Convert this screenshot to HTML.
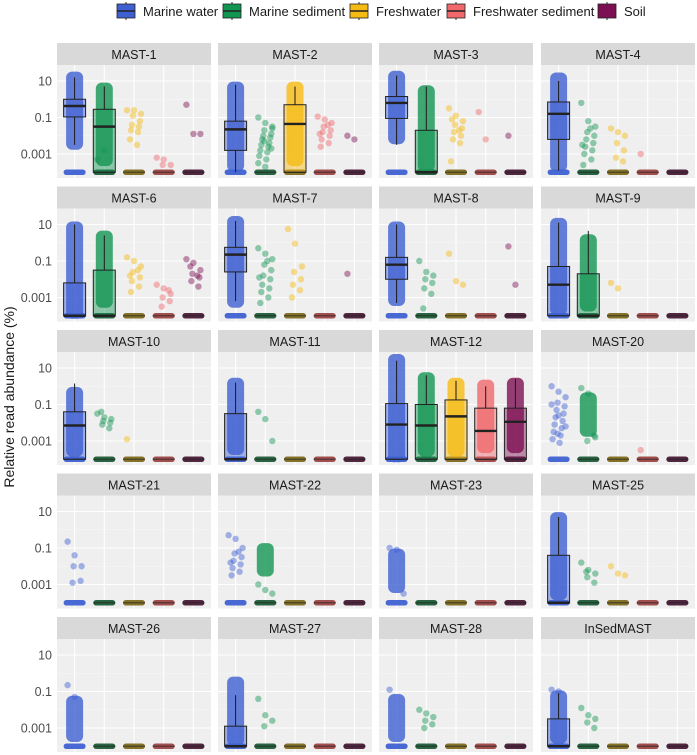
<!DOCTYPE html>
<html><head><meta charset="utf-8">
<style>
html,body{margin:0;padding:0;background:#fff;}
svg{display:block;font-family:"Liberation Sans",sans-serif;}
</style></head>
<body>
<svg id="chart" width="697" height="755" viewBox="0 0 697 755" xmlns="http://www.w3.org/2000/svg"></svg>
<script>
// ---- data (log10 of relative read abundance %; -4 = zero pseudocount) ----
const categories = ["Marine water","Marine sediment","Freshwater","Freshwater sediment","Soil"];
const colors = ["#3E60D2","#139552","#F6BB12","#F0686C","#7D1052"];
const zeroColors = ["#3C5BB8","#1E5C38","#7E6A1E","#9C4444","#4A1A36"];
const facets = ["MAST-1","MAST-2","MAST-3","MAST-4","MAST-6","MAST-7","MAST-8","MAST-9","MAST-10","MAST-11","MAST-12","MAST-20","MAST-21","MAST-22","MAST-23","MAST-25","MAST-26","MAST-27","MAST-28","InSedMAST"];
const yTickValues = [1,-1,-3];
const yTickLabels = ["10","0.1","0.001"];
// boxes: [whiskerLow, q1, median, q3, whiskerHigh] per facet per category (null = no box)
const boxes = [
 [[-2.5,-0.97,-0.37,0.0,1.2],[-4,-4,-1.5,-0.55,0.7],null,null,null],
 [[-4,-2.8,-1.65,-1.2,0.8],null,[-4,-4,-1.35,-0.3,0.7],null,null],
 [[-2.5,-1.05,-0.2,0.15,1.3],[-4,-4,-4,-1.7,0.7],null,null,null],
 [[-3.9,-2.2,-0.8,-0.15,1.0],null,null,null,null],
 [[-4,-4,-4,-2.2,1.0],[-4,-4,-4,-1.5,0.4],null,null,null],
 [[-3.2,-1.6,-0.65,-0.25,1.2],null,null,null,null],
 [[-3.3,-2.0,-1.2,-0.8,1.0],null,null,null,null],
 [[-4,-4,-2.3,-1.3,1.1],[-4,-4,-4,-1.7,0.65],null,null,null],
 [[-4,-4,-2.15,-1.4,0.15],null,null,null,null],
 [[-4,-4,-4,-1.5,0.2],null,null,null,null],
 [[-4,-4,-2.1,-0.95,1.4],[-4,-4,-2.15,-1.0,0.6],[-4,-4,-1.65,-0.75,0.3],[-4,-4,-2.45,-1.2,0.0],[-4,-4,-1.95,-1.2,0.4]],
 [null,null,null,null,null],
 [null,null,null,null,null],
 [null,null,null,null,null],
 [null,null,null,null,null],
 [[-4,-4,-4,-1.4,0.7],null,null,null,null],
 [null,null,null,null,null],
 [[-4,-4,-4,-2.9,-1.2],null,null,null,null],
 [null,null,null,null,null],
 [[-4,-4,-4,-2.5,-1.1],null,null,null,null]
];
// dense point clouds: [low, high] per facet per category (null = none)
const clouds = [
 [[-2.6,1.35],[-3.5,0.75],null,null,null],
 [[-3.8,0.8],null,[-3.5,0.8],null,null],
 [[-2.3,1.4],[-3.8,0.6],null,null,null],
 [[-3.8,1.3],null,null,null,null],
 [[-4,1.0],[-3.4,0.5],null,null,null],
 [[-3.4,1.3],null,null,null,null],
 [[-3.3,1.0],null,null,null,null],
 [[-3.8,1.2],[-3.6,0.3],null,null,null],
 [[-3.7,-0.2],null,null,null,null],
 [[-3.6,0.3],null,null,null,null],
 [[-4,1.6],[-3.7,0.6],[-3.7,0.3],[-3.5,0.2],[-3.5,0.3]],
 [null,[-2.6,-0.5],null,null,null],
 [null,null,null,null,null],
 [null,[-2.4,-0.9],null,null,null],
 [[-3.3,-1.2],null,null,null,null],
 [[-3.7,0.8],null,null,null,null],
 [[-3.6,-1.4],null,null,null,null],
 [[-3.8,-0.35],null,null,null,null],
 [[-3.6,-1.3],null,null,null,null],
 [[-3.7,-1.1],null,null,null,null]
];
// sparse points per facet per category
const points = [
 [[],[-3.3,-2.8],[-0.6,-0.6,-0.8,-0.9,-1.2,-1.4,-1.5,-1.7,-1.8,-2.2,-2.5],[-3.2,-3.3,-3.6,-3.6],[-0.3,-1.9,-1.9]],
 [[],[-1.0,-1.3,-1.5,-1.7,-1.9,-2.0,-2.1,-2.2,-2.4,-2.5,-2.6,-2.8,-2.9,-3.1,-3.3,-3.5,-3.7,-1.6,-2.3,-2.7],[],[-0.95,-1.1,-1.3,-1.5,-1.7,-1.8,-2.0,-2.2,-2.4,-2.6,-1.4,-1.9],[-2.0,-2.2]],
 [[],[],[-0.5,-0.9,-1.2,-1.4,-1.6,-1.8,-2.0,-2.2,-2.4,-1.1,-1.7,-3.4],[-0.7,-2.2],[-2.0]],
 [[],[-0.2,-1.2,-1.5,-1.8,-2.0,-2.2,-2.4,-2.6,-2.8,-3.0,-3.3,-3.6,-1.6,-2.5],[-1.6,-1.8,-2.0,-2.4,-2.8,-3.2,-3.4],[-3.0],[]],
 [[],[],[-0.8,-1.0,-1.3,-1.6,-1.9,-2.1,-2.4,-2.7,-1.5,-1.8],[-2.3,-2.5,-2.8,-3.0,-3.2,-3.5,-2.6],[-0.9,-1.1,-1.5,-1.7,-1.9,-2.1,-2.4,-1.3,-1.8]],
 [[],[-0.3,-0.6,-0.9,-1.2,-1.5,-1.8,-2.0,-2.3,-2.5,-2.7,-3.0,-3.3,-1.0,-1.9],[0.75,-0.05,-1.3,-1.6,-2.0,-2.3,-2.6,-3.0],[],[-1.7]],
 [[],[-1.0,-1.6,-1.8,-2.0,-2.2,-2.5,-2.8,-3.6],[-0.6,-2.1,-2.3],[],[-0.2,-2.3]],
 [[],[],[-2.2,-2.5],[],[]],
 [[],[-1.5,-1.7,-1.8,-1.9,-2.0,-2.1,-2.3,-1.4],[-2.9],[],[]],
 [[],[-1.4,-1.8,-3.0],[],[],[]],
 [[],[],[],[],[]],
 [[0.0,-0.3,-0.6,-0.9,-1.1,-1.3,-1.5,-1.7,-1.9,-2.1,-2.3,-2.5,-2.7,-2.9,-3.1,-1.0,-1.6,-2.2,-2.6],[-0.1,-0.4,-2.8,-3.0,-2.7],[],[-3.5],[]],
 [[-0.65,-1.4,-2.0,-2.0,-2.8,-2.9],[],[],[],[]],
 [[-0.3,-0.5,-1.0,-1.3,-1.5,-1.7,-1.9,-2.1,-2.3,-2.5,-1.2,-1.8],[-3.0,-3.3,-3.5],[],[],[]],
 [[-1.0,-1.1,-3.5],[],[],[],[]],
 [[],[-1.8,-2.2,-2.4,-2.6,-2.9,-2.3],[-2.0,-2.4,-2.5],[],[]],
 [[-0.65,-1.3],[],[],[],[]],
 [[],[-1.4,-2.3,-2.6,-2.9],[],[],[]],
 [[-0.9],[-2.0,-2.2,-2.4,-2.6,-2.8,-3.0],[],[],[]],
 [[-0.9,-1.0],[-1.9,-2.3,-2.5,-2.7,-3.0],[],[],[]]
];

const NS = "http://www.w3.org/2000/svg";
const svg = document.getElementById("chart");
function mk(tag, attrs, parent){const e=document.createElementNS(NS,tag);for(const k in attrs)e.setAttribute(k,attrs[k]);(parent||svg).appendChild(e);return e;}

const colX = [57,218,379,541], panelW = 154, stripH = 22, bodyH = 113;
function stripTop(r){return 43 + r*143.5;}
function yScale(r,v){return stripTop(r)+stripH+16+(1-v)*18.25;}
function xScale(c,i){return colX[c]+77+(i-2)*29.7;}

// legend
const legX=[117,223,350,447,598];
categories.forEach((cat,i)=>{
  const g=mk("g",{});
  
  
  mk("line",{x1:legX[i]+9,x2:legX[i]+9,y1:2,y2:20,stroke:"#222","stroke-width":1},g);
  mk("rect",{x:legX[i],y:4,width:18,height:14,fill:colors[i],stroke:"#222","stroke-width":0.8},g);
  if(i<4) mk("line",{x1:legX[i],x2:legX[i]+18,y1:11,y2:11,stroke:"#222","stroke-width":1.4},g);
  const t=mk("text",{x:legX[i]+26,y:16,"font-size":13,fill:"#1a1a1a"},g);t.textContent=cat;
});

// y-axis title
const yt=mk("text",{x:14,y:397,"font-size":14,fill:"#1a1a1a","text-anchor":"middle",transform:"rotate(-90 14 397)"});


yt.textContent="Relative read abundance (%)";

facets.forEach((name,f)=>{
  const r=Math.floor(f/4), c=f%4;
  const g=mk("g",{});
  
  
  const st=stripTop(r);
  mk("rect",{x:colX[c],y:st,width:panelW,height:stripH,fill:"#D9D9D9"},g);
  const lab=mk("text",{x:colX[c]+panelW/2,y:st+16,"font-size":12.5,fill:"#1a1a1a","text-anchor":"middle"},g);
  
  
  lab.textContent=name;
  const bt=st+stripH;
  mk("rect",{x:colX[c],y:bt,width:panelW,height:bodyH,fill:"#EFEFEF"},g);
  [2,0,-2,-4].forEach(v=>{const y=yScale(r,v);if(y>bt&&y<bt+bodyH)mk("line",{x1:colX[c],x2:colX[c]+panelW,y1:y,y2:y,stroke:"#F7F7F7","stroke-width":0.6},g);});
  yTickValues.forEach(v=>{const y=yScale(r,v);mk("line",{x1:colX[c],x2:colX[c]+panelW,y1:y,y2:y,stroke:"#fff","stroke-width":1.1},g);});
  categories.forEach((_,i)=>{const x=xScale(c,i);mk("line",{x1:x,x2:x,y1:bt,y2:bt+bodyH,stroke:"#fff","stroke-width":1.1},g);});
  if(c===0){yTickValues.forEach((v,k)=>{const t=mk("text",{x:52,y:yScale(r,v)+4.5,"font-size":12.5,fill:"#4d4d4d","text-anchor":"end"});
    
    
    t.textContent=yTickLabels[k];});}
  categories.forEach((cat,i)=>{
    const x=xScale(c,i), col=colors[i];
    const cg=mk("g",{},g);
    
    
    mk("rect",{x:x-11,y:yScale(r,-4)-2.8,width:22,height:5.6,rx:2.8,fill:(i===0?col:zeroColors[i]),opacity:0.95},cg);
    const cl=clouds[f][i];
    if(cl){const y1=yScale(r,cl[1]),y0=yScale(r,cl[0]);
      mk("rect",{x:x-8.5,y:y1-3,width:17,height:(y0-y1)+6,rx:6,fill:col,opacity:0.8},cg);}
    const pts=points[f][i];
    pts.forEach((v,k)=>{const dx=((k*37)%15)-7;
      mk("circle",{cx:x+dx,cy:yScale(r,v),r:3.2,fill:col,opacity:0.45},cg);});
    const b=boxes[f][i];
    if(b){const yl=yScale(r,b[0]),yq1=yScale(r,b[1]),ym=yScale(r,b[2]),yq3=yScale(r,b[3]),yh=yScale(r,b[4]);
      mk("line",{x1:x,x2:x,y1:yh,y2:yq3,stroke:"#1a1a1a","stroke-width":1},cg);
      mk("line",{x1:x,x2:x,y1:yq1,y2:yl,stroke:"#1a1a1a","stroke-width":1},cg);
      mk("rect",{x:x-11,y:yq3,width:22,height:Math.max(yq1-yq3,0.5),fill:col,"fill-opacity":0.45,stroke:"#222","stroke-width":1},cg);
      mk("line",{x1:x-11,x2:x+11,y1:ym,y2:ym,stroke:"#222","stroke-width":2.4},cg);
    }
    if(i>0 || (b && b[1]<=-4)){const y=yScale(r,-4);
      mk("line",{x1:x-11,x2:x+11,y1:y,y2:y,stroke:"#222","stroke-width":1.2,opacity:0.6},cg);}
  });
});
</script>
</body></html>
